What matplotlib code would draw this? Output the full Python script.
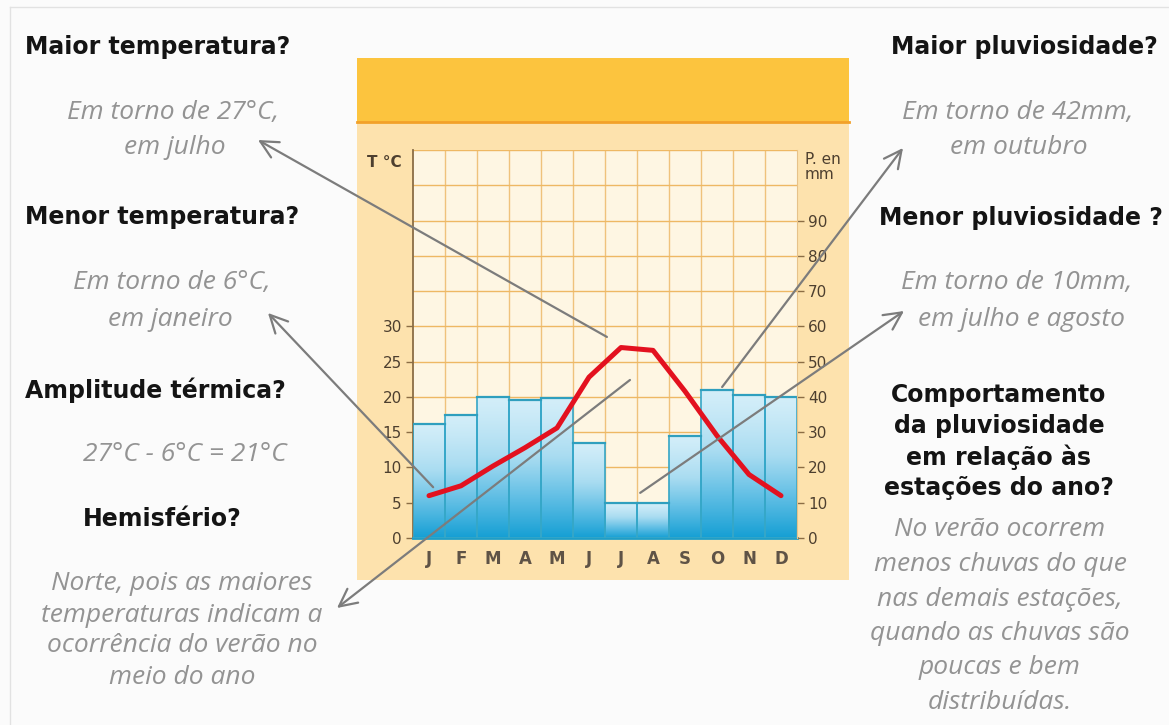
import numpy as np
import matplotlib.pyplot as plt
from matplotlib.patches import Rectangle

W, H = 1169, 725

# monthly climate data
months = ["J", "F", "M", "A", "M", "J", "J", "A", "S", "O", "N", "D"]
temperature = [6, 7.4, 10.2, 12.8, 15.6, 22.8, 27, 26.6, 20.8, 14.5, 9, 6]        # °C
precipitation = [32.4, 35, 40, 39.2, 39.6, 27, 10, 10, 29, 42, 40.5, 40]          # mm
temp_ticks = [0, 5, 10, 15, 20, 25, 30]
prec_ticks = [0, 10, 20, 30, 40, 50, 60, 70, 80, 90]

HEAD = dict(family=["DejaVu Sans"], weight="bold", color="#141414", fontsize=17)
NOTE = dict(family=["Open Sans", "DejaVu Sans"], style="italic", color="#939393", fontsize=19)
AXIS_FONT = ["Liberation Sans Narrow", "DejaVu Sans"]

fig = plt.figure(figsize=(W / 100, H / 100), dpi=100)
fig.patch.set_facecolor("#fbfbfb")

bg = fig.add_axes([0, 0, 1, 1], zorder=0)
bg.set_xlim(0, W)
bg.set_ylim(H, 0)
bg.axis("off")

# faint page frame
bg.plot([10, W], [7, 7], color="#e2e2e2", lw=1)
bg.plot([10, 10], [7, H], color="#e2e2e2", lw=1)

# chart panel with yellow header band
bg.add_patch(Rectangle((357, 58), 492, 522, facecolor="#fde2ad", edgecolor="none"))
bg.add_patch(Rectangle((357, 58), 492, 64, facecolor="#fcc43e", edgecolor="none"))
bg.plot([357, 849], [122, 122], color="#f2a12a", lw=2)

# climate chart
ax = fig.add_axes([413 / W, 1 - 538 / H, 384 / W, 388 / H], zorder=1)
ax.set_facecolor("#fef6e3")

for k in range(1, 12):
    ax.axvline(k, color="#efc27c", lw=1, zorder=1)
for v in range(5, 56, 5):
    ax.axhline(v, color="#eeb864", lw=1, zorder=1)

# rain bars with a vertical blue gradient, on the °C scale (1 °C = 2 mm)
grad = np.linspace(0, 1, 256).reshape(-1, 1) ** 1.25
cmap = plt.matplotlib.colors.LinearSegmentedColormap.from_list(
    "rain", ["#d3eef9", "#a9dcf1", "#5dbde4", "#159fd4"])
for i, p in enumerate(precipitation):
    h = p / 2
    bar = ax.bar(i + 0.5, h, width=1, facecolor="none", edgecolor="#35a7c8", lw=1.2, zorder=3)[0]
    im = ax.imshow(grad, cmap=cmap, aspect="auto", extent=(i, i + 1, 0, h), origin="upper", zorder=2)
    im.set_clip_path(bar)
    ax.plot([i, i + 1], [h, h], color="#2f9fbe", lw=1.6, zorder=4)
ax.set_xlim(0, 12)
ax.set_ylim(0, 55)

x = np.arange(12) + 0.5
ax.plot(x, temperature, color="#e3111f", lw=3.6, solid_joinstyle="round",
        solid_capstyle="round", zorder=5)

ax.set_xticks(x)
ax.set_xticklabels(months, family=["DejaVu Sans"], weight="bold", fontsize=12, color="#5f5346")
ax.tick_params(axis="x", length=0, pad=9)
ax.set_yticks(temp_ticks)
ax.set_yticklabels([str(t) for t in temp_ticks], family=AXIS_FONT, fontsize=11, color="#4d3f2f")
ax.tick_params(axis="y", length=5, width=1, color="#8b6d45", pad=3)
for side in ["top", "right"]:
    ax.spines[side].set_visible(False)
ax.spines["left"].set_color("#8b6d45")
ax.spines["left"].set_linewidth(1.3)
ax.spines["bottom"].set_color("#1f9ec8")
ax.spines["bottom"].set_linewidth(2)

ax2 = ax.twinx()
ax2.set_ylim(0, 110)
ax2.set_yticks(prec_ticks)
ax2.set_yticklabels([str(t) for t in prec_ticks], family=AXIS_FONT, fontsize=11, color="#4d3f2f")
ax2.tick_params(axis="y", length=5, width=1, color="#8b6d45", pad=3)
for side in ["top", "left", "bottom"]:
    ax2.spines[side].set_visible(False)
ax2.spines["right"].set_color("#e6c28a")

bg.text(402, 162, "T °C", family=AXIS_FONT, fontsize=11, weight="bold", color="#4d3f2f",
        ha="right", va="center")
bg.text(805, 167, "P. en\nmm", family=AXIS_FONT, fontsize=11, color="#4d3f2f",
        va="center", linespacing=1.05)

# questions and answers
bg.text(25, 47, "Maior temperatura?", ha="left", va="center", **HEAD)
bg.text(173, 112, "Em torno de 27°C,", ha="center", va="center", **NOTE)
bg.text(175, 147, "em julho", ha="center", va="center", **NOTE)
bg.text(25, 217, "Menor temperatura?", ha="left", va="center", **HEAD)
bg.text(172, 282, "Em torno de 6°C,", ha="center", va="center", **NOTE)
bg.text(170, 319, "em janeiro", ha="center", va="center", **NOTE)
bg.text(25, 390, "Amplitude térmica?", ha="left", va="center", **HEAD)
bg.text(185, 454, "27°C - 6°C = 21°C", ha="center", va="center", **NOTE)
bg.text(162, 519, "Hemisfério?", ha="center", va="center", **HEAD)
for k, line in enumerate(["Norte, pois as maiores", "temperaturas indicam a",
                          "ocorrência do verão no", "meio do ano"]):
    bg.text(182, 584 + 31 * k, line, ha="center", va="center", **NOTE)

bg.text(1158, 47, "Maior pluviosidade?", ha="right", va="center", **HEAD)
bg.text(1018, 112, "Em torno de 42mm,", ha="center", va="center", **NOTE)
bg.text(1019, 147, "em outubro", ha="center", va="center", **NOTE)
bg.text(1163, 218, "Menor pluviosidade ?", ha="right", va="center", **HEAD)
bg.text(1017, 282, "Em torno de 10mm,", ha="center", va="center", **NOTE)
bg.text(1021, 319, "em julho e agosto", ha="center", va="center", **NOTE)
for k, line in enumerate(["Comportamento", "da pluviosidade", "em relação às", "estações do ano?"]):
    bg.text(999, 395 + 31 * k, line, ha="center", va="center", **HEAD)
for k, line in enumerate(["No verão ocorrem", "menos chuvas do que", "nas demais estações,",
                          "quando as chuvas são", "poucas e bem", "distribuídas."]):
    bg.text(1000, 530 + 34.5 * k, line, ha="center", va="center", **NOTE)

# pointer arrows from the chart to the answers
top = fig.add_axes([0, 0, 1, 1], zorder=5)
top.set_xlim(0, W)
top.set_ylim(H, 0)
top.axis("off")
pointers = [
    ((6.06, 28.5), (258, 140)),
    ((0.63, 7.2), (268, 313)),
    ((6.78, 22.4), (337, 608)),
    ((9.66, 21.4), (903, 148)),
    ((7.1, 6.4), (904, 311)),
]
for tail, tip in pointers:
    top.annotate("", xy=tip, xycoords="data", xytext=tail, textcoords=ax.transData,
                 annotation_clip=False,
                 arrowprops=dict(arrowstyle="->,head_length=0.9,head_width=0.45",
                                 color="#7c7c7c", lw=1.6, shrinkA=0, shrinkB=0,
                                 mutation_scale=14))

fig.savefig("out.png", dpi=100, facecolor=fig.get_facecolor())
